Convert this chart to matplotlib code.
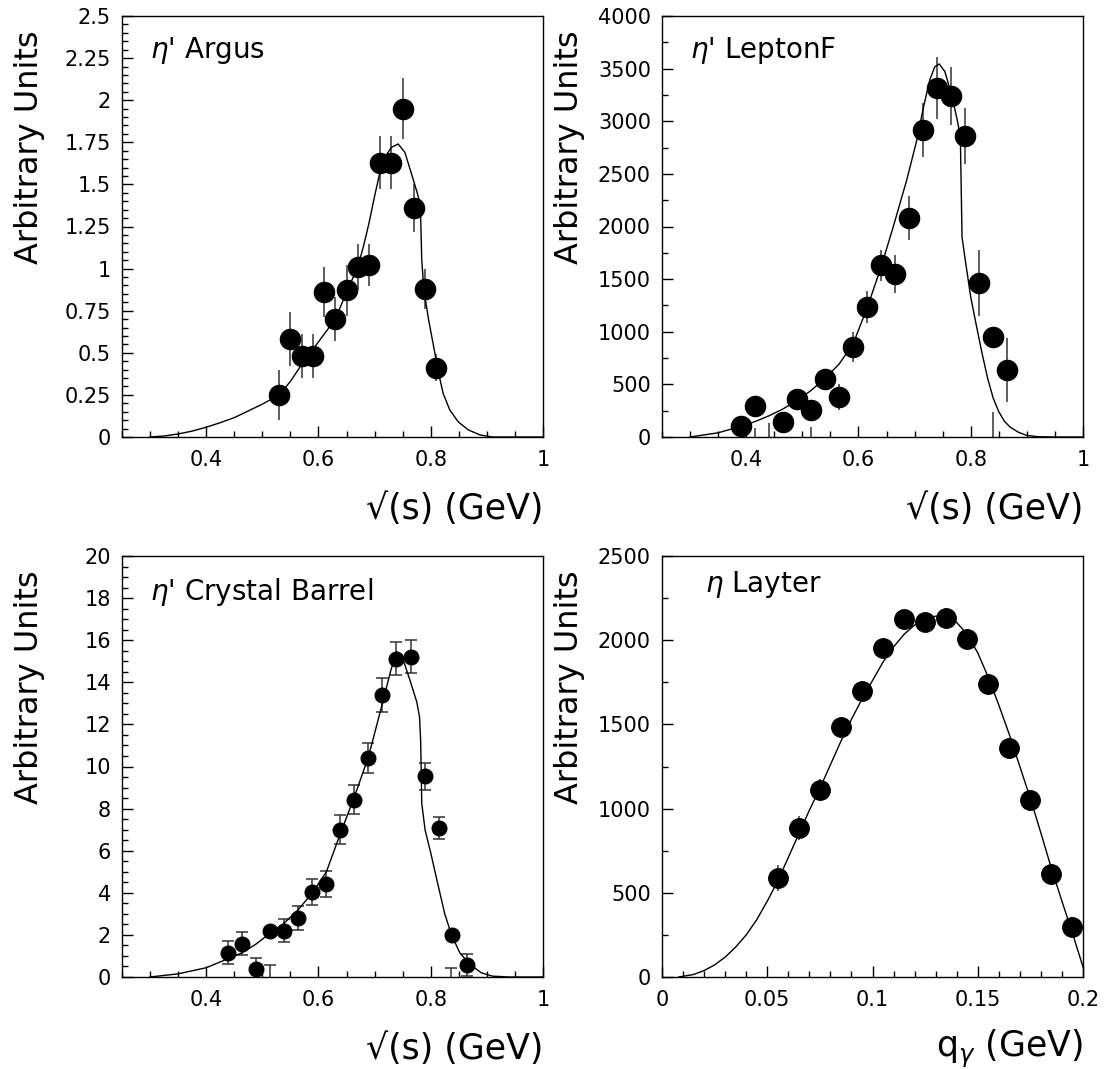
import matplotlib
matplotlib.use("Agg")
import matplotlib.pyplot as plt
from matplotlib.ticker import MultipleLocator, FuncFormatter

plt.rcParams['font.family'] = ['DejaVu Sans']
plt.rcParams['mathtext.fontset'] = 'dejavusans'

# ---- eta' Argus ----
argus_x = [0.53, 0.55, 0.57, 0.59, 0.61, 0.63, 0.65, 0.67, 0.69, 0.71, 0.73, 0.75, 0.77, 0.79, 0.81]
argus_y = [0.25, 0.58, 0.48, 0.48, 0.86, 0.70, 0.87, 1.01, 1.02, 1.63, 1.63, 1.95, 1.36, 0.88, 0.41]
argus_err = [0.15, 0.16, 0.13, 0.13, 0.15, 0.13, 0.15, 0.135, 0.125, 0.16, 0.16, 0.18, 0.14, 0.12, 0.08]
argus_fit_x = [0.30, 0.325, 0.35, 0.375, 0.40, 0.425, 0.45, 0.475, 0.50, 0.53, 0.55, 0.57, 0.59, 0.61,
               0.63, 0.65, 0.67, 0.68, 0.69, 0.70, 0.71, 0.72, 0.73, 0.742, 0.754, 0.766, 0.775,
               0.780, 0.782, 0.784, 0.788, 0.796, 0.805, 0.814, 0.822, 0.834, 0.849, 0.867, 0.888,
               0.91, 0.95, 1.0]
argus_fit_y = [0, 0.006, 0.018, 0.035, 0.058, 0.085, 0.115, 0.155, 0.195, 0.25, 0.33, 0.43, 0.52, 0.61,
               0.70, 0.86, 1.01, 1.13, 1.27, 1.43, 1.58, 1.67, 1.72, 1.74, 1.69, 1.56, 1.46,
               1.40, 1.31, 1.05, 0.87, 0.70, 0.54, 0.38, 0.26, 0.16, 0.09, 0.042, 0.012,
               0.0, 0, 0]

# ---- eta' LeptonF ----
lepton_x = [0.39, 0.415, 0.465, 0.49, 0.515, 0.54, 0.565, 0.59, 0.615, 0.64, 0.665, 0.69, 0.715,
            0.74, 0.765, 0.79, 0.815, 0.84, 0.865]
lepton_y = [101, 298, 139, 361, 260, 555, 380, 856, 1236, 1632, 1547, 2082, 2916, 3312, 3240, 2859,
            1464, 951, 640]
lepton_err = [30, 30, 30, 82, 30, 95, 127, 143, 152, 149, 180, 209, 254, 295, 279, 263, 311, 30, 304]
lepton_zero_x = [0.415, 0.44, 0.515, 0.84]
lepton_zero_err = [90, 130, 95, 240]
lepton_fit_x = [0.30, 0.35, 0.39, 0.415, 0.44, 0.465, 0.49, 0.515, 0.54, 0.565, 0.59, 0.615, 0.64,
                0.662, 0.686, 0.704, 0.716, 0.727, 0.736, 0.744, 0.754, 0.766, 0.776, 0.7815, 0.7845,
                0.79, 0.80, 0.81, 0.82, 0.83, 0.84, 0.85, 0.86, 0.87, 0.885, 0.90, 0.92, 0.95, 1.0]
lepton_fit_y = [0, 40, 100, 145, 200, 265, 345, 440, 555, 690, 880, 1220, 1610, 1998, 2442, 2822,
                3138, 3392, 3518, 3544, 3471, 3249, 3012, 2850, 1900, 1690, 1330, 1060, 800, 560,
                370, 240, 150, 95, 45, 15, 3, 0, 0]

# ---- eta' Crystal Barrel ----
cb_x = [0.439, 0.463, 0.488, 0.513, 0.538, 0.563, 0.588, 0.614, 0.639, 0.664, 0.689, 0.714, 0.739,
        0.764, 0.789, 0.814, 0.838, 0.864]
cb_y = [1.16, 1.58, 0.36, 2.17, 2.19, 2.80, 4.03, 4.41, 7.0, 8.43, 10.41, 13.38, 15.13, 15.21, 9.54,
        7.08, 2.01, 0.59]
cb_err = [0.54, 0.54, 0.54, 0.0, 0.55, 0.57, 0.62, 0.62, 0.68, 0.68, 0.73, 0.81, 0.79, 0.79, 0.65,
          0.52, 0.0, 0.52]
cb_zero_x = [0.514, 0.836]
cb_zero_err = [0.55, 0.43]
cb_fit_x = [0.30, 0.35, 0.40, 0.439, 0.463, 0.488, 0.513, 0.538, 0.563, 0.588, 0.614, 0.639, 0.664,
            0.689, 0.714, 0.729, 0.740, 0.751, 0.763, 0.775, 0.780, 0.782, 0.783, 0.784, 0.79, 0.80,
            0.811, 0.825, 0.837, 0.852, 0.87, 0.89, 0.91, 0.94, 1.0]
cb_fit_y = [0, 0.15, 0.44, 0.87, 1.14, 1.55, 2.06, 2.54, 3.17, 3.96, 4.99, 6.81, 8.56,
            10.46, 13.0, 14.58, 15.45, 15.06, 14.1, 13.08, 12.37, 11.26, 9.83, 8.25, 6.98, 5.9,
            4.6, 3.0, 2.0, 1.14, 0.6, 0.2, 0.04, 0, 0]

# ---- eta Layter ----
layter_x = [0.055, 0.065, 0.075, 0.085, 0.095, 0.105, 0.115, 0.125, 0.135, 0.145, 0.155, 0.165,
            0.175, 0.185, 0.195]
layter_y = [588, 884, 1113, 1486, 1700, 1955, 2124, 2106, 2134, 2005, 1739, 1359, 1050, 610, 297]
layter_err = [79, 70, 62, 58, 55, 55, 58, 55, 58, 60, 62, 60, 62, 62, 60]
layter_fit_x = [0.008, 0.015, 0.02, 0.025, 0.03, 0.035, 0.04, 0.045, 0.05, 0.055, 0.06, 0.065, 0.07,
                0.075, 0.08, 0.085, 0.09, 0.095, 0.10, 0.105, 0.11, 0.115, 0.12, 0.125, 0.13, 0.135,
                0.14, 0.145, 0.15, 0.155, 0.16, 0.165, 0.17, 0.175, 0.18, 0.185, 0.19, 0.195, 0.2]
layter_fit_y = [0, 15, 38, 72, 118, 178, 250, 340, 450, 570, 710, 850, 990, 1120, 1260, 1400, 1530,
                1650, 1760, 1870, 1960, 2035, 2090, 2125, 2143, 2138, 2105, 2035, 1925, 1780, 1615,
                1440, 1250, 1060, 855, 645, 450, 260, 60]

W, H = 1106, 1069
fig = plt.figure(figsize=(W / 100, H / 100), dpi=100)

def box(x0, y0):
    # axes rectangle from pixel corners (left, top)
    return [x0 / W, 1 - (y0 + 421) / H, 421 / W, 421 / H]

fmt = FuncFormatter(lambda v, p: '%g' % round(v, 6))
ebar = dict(fmt='none', ecolor='#333333', elinewidth=1.1)

def setup(ax, xlim, ylim, xmaj, xmin, ymaj, ymin, title, tx, ty, xlabel):
    ax.set_xlim(*xlim)
    ax.set_ylim(*ylim)
    ax.xaxis.set_major_locator(MultipleLocator(xmaj))
    ax.xaxis.set_minor_locator(MultipleLocator(xmin))
    ax.yaxis.set_major_locator(MultipleLocator(ymaj))
    ax.yaxis.set_minor_locator(MultipleLocator(ymin))
    ax.xaxis.set_major_formatter(fmt)
    ax.yaxis.set_major_formatter(fmt)
    ax.tick_params(which='both', direction='in', top=False, right=False, labelsize=15)
    ax.tick_params(which='major', length=8, width=1)
    ax.tick_params(which='minor', length=4.5, width=1)
    ax.tick_params(axis='x', pad=9)
    ax.tick_params(axis='y', pad=8)
    for s in ax.spines.values():
        s.set_linewidth(1.0)
    ax.text(tx, ty, title, transform=ax.transAxes, fontsize=20, va='baseline', ha='left')
    ax.set_xlabel(xlabel, fontsize=25, ha='right', va='center')
    ax.xaxis.set_label_coords(1.0, -0.17)
    ax.set_ylabel('Arbitrary Units', fontsize=23, ha='right', va='center')
    ax.yaxis.set_label_coords(-0.22, 0.965)

# top left
ax1 = fig.add_axes(box(122, 16))
ax1.errorbar(argus_x, argus_y, yerr=argus_err, **ebar)
ax1.plot(argus_fit_x, argus_fit_y, color='black', lw=1.0)
ax1.plot(argus_x, argus_y, 'o', color='black', ms=14.5)
setup(ax1, (0.25, 1.0), (0, 2.5), 0.2, 0.05, 0.25, 0.05,
      r"$\eta$' Argus", 0.067, 0.90, '√(s) (GeV)')

# top right
ax2 = fig.add_axes(box(662, 16))
ax2.errorbar(lepton_x, lepton_y, yerr=lepton_err, **ebar)
ax2.errorbar(lepton_zero_x, [0] * len(lepton_zero_x), yerr=lepton_zero_err, **ebar)
ax2.plot(lepton_fit_x, lepton_fit_y, color='black', lw=1.0)
ax2.plot(lepton_x, lepton_y, 'o', color='black', ms=14.5)
setup(ax2, (0.25, 1.0), (0, 4000), 0.2, 0.05, 500, 250,
      r"$\eta$' LeptonF", 0.067, 0.90, '√(s) (GeV)')

# bottom left
ax3 = fig.add_axes(box(122, 556))
ax3.errorbar(cb_x, cb_y, yerr=cb_err, capsize=4.3, capthick=1.1, **ebar)
ax3.errorbar(cb_zero_x, [0] * len(cb_zero_x), yerr=cb_zero_err, capsize=4.3, capthick=1.1, **ebar)
ax3.plot(cb_fit_x, cb_fit_y, color='black', lw=1.0)
ax3.plot(cb_x, cb_y, 'o', color='black', ms=10.5)
setup(ax3, (0.25, 1.0), (0, 20), 0.2, 0.05, 2, 0.5,
      r"$\eta$' Crystal Barrel", 0.067, 0.895, '√(s) (GeV)')

# bottom right
ax4 = fig.add_axes(box(662, 556))
ax4.errorbar(layter_x, layter_y, yerr=layter_err, **ebar)
ax4.plot(layter_fit_x, layter_fit_y, color='black', lw=1.0)
ax4.plot(layter_x, layter_y, 'o', color='black', ms=14)
setup(ax4, (0, 0.2), (0, 2500), 0.05, 0.01, 500, 250,
      r"$\eta$ Layter", 0.102, 0.914, r'q$_{\gamma}$ (GeV)')

fig.savefig('out.png', dpi=100)
